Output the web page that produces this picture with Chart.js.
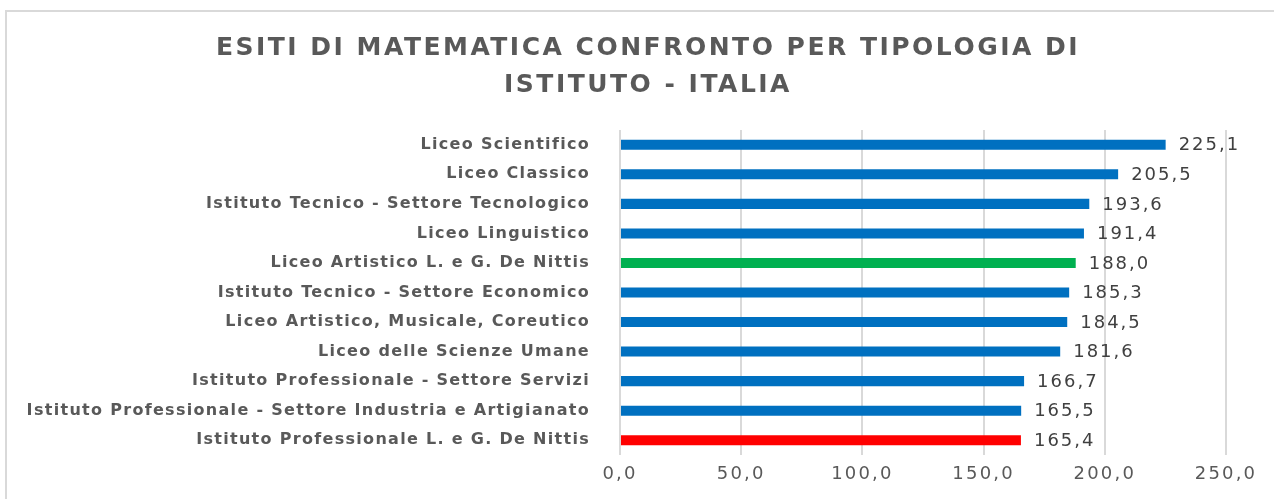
<!DOCTYPE html>
<html>
<head>
<meta charset="utf-8">
<script src="https://cdn.jsdelivr.net/npm/chart.js@4/dist/chart.umd.min.js"></script>
<style>
  html, body { margin: 0; padding: 0; background: #fff; }
  #wrap { position: relative; width: 1274px; height: 499px; overflow: hidden; }
  #frame { position: absolute; left: 5px; top: 10px; width: 1300px; height: 520px; border: 2px solid #d9d9d9; box-sizing: border-box; }
  canvas { position: absolute; left: 0; top: 0; }
  #title { position: absolute; left: 148px; width: 1000px; top: 28px; text-align: center;
           font-family: "DejaVu Sans", sans-serif; font-weight: bold; font-size: 25px; line-height: 37px;
           letter-spacing: 2.5px; color: #595959; z-index: 2; }
</style>
</head>
<body>
<div id="wrap">
  <div id="frame"></div>
  <canvas id="c" width="1274" height="499"></canvas>
  <div id="title"></div>
</div>
<script>
const categories = [
  "Liceo Scientifico",
  "Liceo Classico",
  "Istituto Tecnico - Settore Tecnologico",
  "Liceo Linguistico",
  "Liceo Artistico L. e G. De Nittis",
  "Istituto Tecnico - Settore Economico",
  "Liceo Artistico, Musicale, Coreutico",
  "Liceo delle Scienze Umane",
  "Istituto Professionale - Settore Servizi",
  "Istituto Professionale - Settore Industria e Artigianato",
  "Istituto Professionale L. e G. De Nittis"
];
const values = [225.1, 205.5, 193.6, 191.4, 188.0, 185.3, 184.5, 181.6, 166.7, 165.5, 165.4];
const barColors = ["#0070C0","#0070C0","#0070C0","#0070C0","#00B050","#0070C0","#0070C0","#0070C0","#0070C0","#0070C0","#FF0000"];
const titleLines = ["ESITI DI MATEMATICA CONFRONTO PER TIPOLOGIA DI", "ISTITUTO - ITALIA"];
const xMin = 0, xMax = 250, xStep = 50;

const fmt = v => Number(v).toFixed(1).replace('.', ',');
const FONT = '"DejaVu Sans", sans-serif';

const titleEl = document.getElementById('title');
titleLines.forEach((t, i) => {
  if (i) titleEl.appendChild(document.createElement('br'));
  titleEl.appendChild(document.createTextNode(t));
});

function spaced(spacing) {
  return s => {
    if (s._spacedPatch) return;
    const orig = s.drawLabels.bind(s);
    s.drawLabels = function (ca) {
      const ctx = this.ctx;
      ctx.save();
      ctx.letterSpacing = spacing;
      orig(ca);
      ctx.restore();
    };
    s._spacedPatch = true;
  };
}

const valueLabels = {
  id: 'valueLabels',
  afterDatasetsDraw(chart) {
    const ctx = chart.ctx;
    const meta = chart.getDatasetMeta(0);
    ctx.save();
    ctx.font = '18px ' + FONT;
    ctx.letterSpacing = '2px';
    ctx.fillStyle = '#404040';
    ctx.textAlign = 'left';
    ctx.textBaseline = 'middle';
    meta.data.forEach((bar, i) => {
      ctx.fillText(fmt(values[i]), bar.x + 13, bar.y + 1);
    });
    ctx.restore();
  }
};

new Chart(document.getElementById('c'), {
  type: 'bar',
  data: {
    labels: categories,
    datasets: [{
      data: values,
      backgroundColor: barColors,
      borderWidth: 0,
      barPercentage: 0.68,
      categoryPercentage: 0.5
    }]
  },
  options: {
    indexAxis: 'y',
    responsive: false,
    animation: false,
    layout: { padding: { left: 0, right: 48, top: 130, bottom: 0 } },
    plugins: {
      legend: { display: false },
      tooltip: { enabled: false },
      title: { display: false }
    },
    scales: {
      x: {
        min: xMin, max: xMax,
        ticks: {
          stepSize: xStep,
          color: '#595959',
          font: { family: FONT, size: 18 },
          padding: 9,
          callback: v => fmt(v)
        },
        grid: { color: '#d9d9d9', lineWidth: 2, drawTicks: false },
        border: { display: false },
        afterFit: s => { s.height = 44; },
        afterUpdate: spaced('2.2px')
      },
      y: {
        ticks: {
          color: '#595959',
          font: { family: FONT, size: 16, weight: 'bold' },
          padding: 30
        },
        grid: { display: false, drawTicks: false },
        border: { display: false },
        afterFit: s => { s.width = 620; },
        afterUpdate: spaced('1.3px')
      }
    }
  },
  plugins: [valueLabels]
});
</script>
</body>
</html>
